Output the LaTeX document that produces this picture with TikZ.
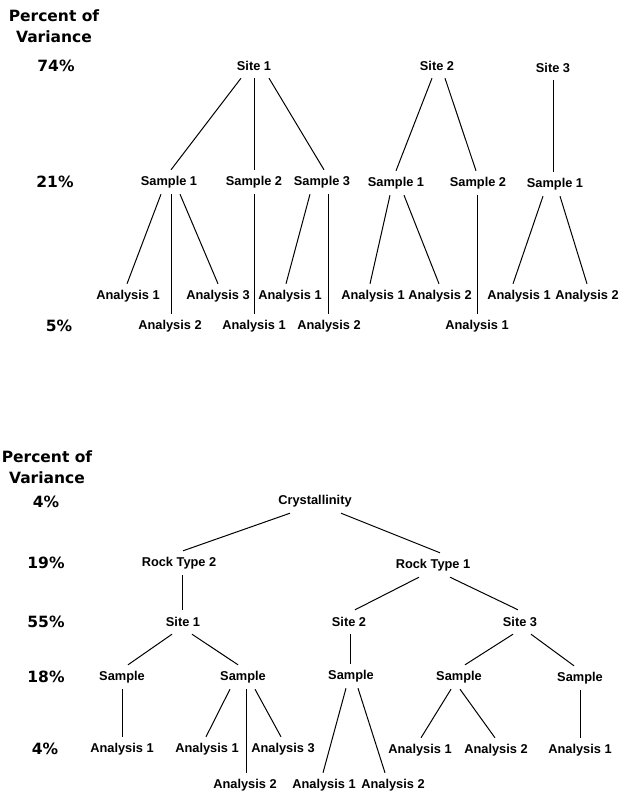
\documentclass[tikz,border=0pt]{standalone}
\usepackage{fontspec}
\setmainfont{Liberation Sans}
\newfontfamily\labelfont{DejaVu Sans}

\begin{document}
\begin{tikzpicture}[
  x=1pt, y=-1pt,
  every node/.style={font=\fontsize{12.8}{14}\selectfont\bfseries,
    inner xsep=1pt, inner ysep=0pt, minimum height=24pt},
  pctlabel/.style={font=\labelfont\fontsize{15.5}{21}\selectfont\bfseries, align=center},
  branch/.style={line width=1pt}
]
\useasboundingbox (0,0) rectangle (633,795);

% Upper tree: levels
\node[pctlabel] (head1) at (54,26) {Percent of\\Variance};
\node[pctlabel] (pct74) at (56,66) {74\%};
\node[pctlabel] (pct21) at (55,182) {21\%};
\node[pctlabel] (pct5) at (59,326) {5\%};

% Sites
\node (site1) at (254,66) {Site 1};
\node (site2) at (437,66) {Site 2};
\node (site3) at (553,68) {Site 3};

% Samples
\node (s11) at (169,182) {Sample 1};
\node (s12) at (254,182) {Sample 2};
\node (s13) at (322,182) {Sample 3};
\node (s21) at (396,183) {Sample 1};
\node (s22) at (478,183) {Sample 2};
\node (s31) at (555,184) {Sample 1};

% Analyses
\node (a111) at (128,296) {Analysis 1};
\node (a112) at (170,326) {Analysis 2};
\node (a113) at (218,296) {Analysis 3};
\node (a121) at (254,326) {Analysis 1};
\node (a131) at (290,296) {Analysis 1};
\node (a132) at (329,326) {Analysis 2};
\node (a211) at (373,296) {Analysis 1};
\node (a212) at (440,296) {Analysis 2};
\node (a221) at (477,326) {Analysis 1};
\node (a311) at (519,296) {Analysis 1};
\node (a312) at (587,296) {Analysis 2};

\draw[branch] ([xshift=-13pt]site1.south) -- ([xshift=2pt]s11.north);
\draw[branch] (site1.south) -- (s12.north);
\draw[branch] ([xshift=15pt]site1.south) -- ([xshift=2pt]s13.north);
\draw[branch] ([xshift=-5pt]site2.south) -- (s21.north);
\draw[branch] ([xshift=8pt]site2.south) -- ([xshift=-2pt]s22.north);
\draw[branch] (site3.south) -- ([xshift=-2pt]s31.north);

\draw[branch] ([xshift=-8pt]s11.south) -- ([xshift=-1pt]a111.north);
\draw[branch] ([xshift=2pt]s11.south) -- ([xshift=1pt]a112.north);
\draw[branch] ([xshift=11pt]s11.south) -- (a113.north);
\draw[branch] (s12.south) -- (a121.north);
\draw[branch] ([xshift=-12pt]s13.south) -- ([xshift=-4pt]a131.north);
\draw[branch] ([xshift=6pt]s13.south) -- ([xshift=-1pt]a132.north);
\draw[branch] ([xshift=-6pt]s21.south) -- ([xshift=-3pt]a211.north);
\draw[branch] ([xshift=8pt]s21.south) -- ([xshift=-1pt]a212.north);
\draw[branch] ([xshift=-1pt]s22.south) -- (a221.north);
\draw[branch] ([xshift=-12pt]s31.south) -- ([xshift=-6pt]a311.north);
\draw[branch] ([xshift=5pt]s31.south) -- (a312.north);

% Lower tree: levels
\node[pctlabel] (head2) at (47,467) {Percent of\\Variance};
\node[pctlabel] (pct4a) at (46,502) {4\%};
\node[pctlabel] (pct19) at (46,563) {19\%};
\node[pctlabel] (pct55) at (46,622) {55\%};
\node[pctlabel] (pct18) at (46,677) {18\%};
\node[pctlabel] (pct4b) at (45,749) {4\%};

% Root node
\node (cryst) at (315,501) {Crystallinity};

% Rock types and sites
\node (rt2) at (179,563) {Rock Type 2};
\node (rt1) at (433,565) {Rock Type 1};
\node (bsite1) at (183,622) {Site 1};
\node (bsite2) at (349,622) {Site 2};
\node (bsite3) at (520,622) {Site 3};

% Samples
\node (bs11) at (122,677) {Sample};
\node (bs12) at (243,677) {Sample};
\node (bs21) at (351,676) {Sample};
\node (bs31) at (459,677) {Sample};
\node (bs32) at (580,678) {Sample};

% Analyses
\node (ba111) at (122,749) {Analysis 1};
\node (ba121) at (207,749) {Analysis 1};
\node (ba122) at (245,785) {Analysis 2};
\node (ba123) at (283,749) {Analysis 3};
\node (ba211) at (324,785) {Analysis 1};
\node (ba212) at (393,785) {Analysis 2};
\node (ba311) at (420,750) {Analysis 1};
\node (ba312) at (496,750) {Analysis 2};
\node (ba321) at (580,750) {Analysis 1};

\draw[branch] ([xshift=-25pt]cryst.south) -- ([xshift=4pt]rt2.north);
\draw[branch] ([xshift=26pt]cryst.south) -- ([xshift=7pt]rt1.north);
\draw[branch] ([xshift=3pt]rt2.south) -- ([xshift=-1pt]bsite1.north);
\draw[branch] ([xshift=-14pt]rt1.south) -- ([xshift=6pt]bsite2.north);
\draw[branch] ([xshift=17pt]rt1.south) -- ([xshift=-2pt]bsite3.north);

\draw[branch] ([xshift=-11pt]bsite1.south) -- ([xshift=6pt]bs11.north);
\draw[branch] ([xshift=9pt]bsite1.south) -- ([xshift=-5pt]bs12.north);
\draw[branch] ([xshift=1pt]bsite2.south) -- ([xshift=-1pt]bs21.north);
\draw[branch] ([xshift=-7pt]bsite3.south) -- ([xshift=6pt]bs31.north);
\draw[branch] ([xshift=11pt]bsite3.south) -- ([xshift=-6pt]bs32.north);

\draw[branch] (bs11.south) -- (ba111.north);
\draw[branch] ([xshift=-13pt]bs12.south) -- ([xshift=-1pt]ba121.north);
\draw[branch] ([xshift=3pt]bs12.south) -- ([xshift=1pt]ba122.north);
\draw[branch] ([xshift=12pt]bs12.south) -- ([xshift=-2pt]ba123.north);
\draw[branch] ([xshift=-5pt]bs21.south) -- ([xshift=-1pt]ba211.north);
\draw[branch] ([xshift=7pt]bs21.south) -- ([xshift=-8pt]ba212.north);
\draw[branch] ([xshift=-8pt]bs31.south) -- ([xshift=1pt]ba311.north);
\draw[branch] ([xshift=1pt]bs31.south) -- ([xshift=-1pt]ba312.north);
\draw[branch] (bs32.south) -- (ba321.north);

\end{tikzpicture}
\end{document}
